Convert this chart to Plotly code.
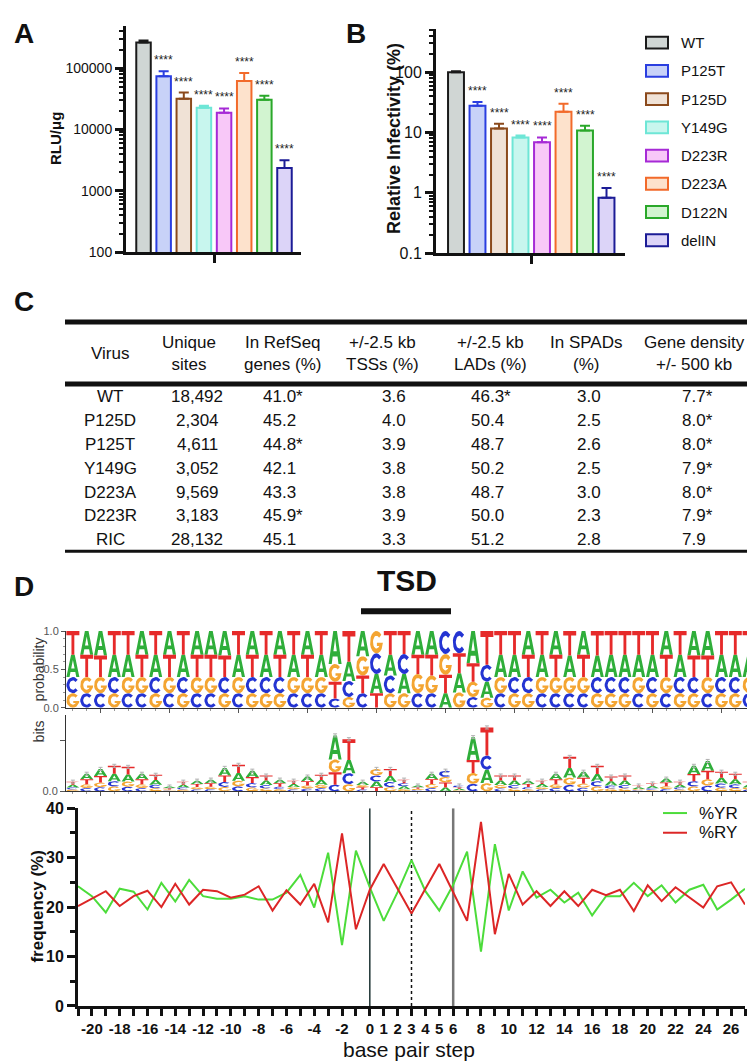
import numpy as np
import plotly.graph_objects as go

W, H = 755, 1064


def px(x):
    return x / W


def py(y):
    return 1 - y / H


FONT = "Liberation Sans, Arial, Helvetica, sans-serif"
NARROW = "Liberation Sans Narrow, Arial Narrow, Liberation Sans, sans-serif"

# ---------------- Panel A / B data ----------------
variants = ["WT", "P125T", "P125D", "Y149G", "D223R", "D223A", "D122N", "delIN"]
rlu = [263000, 74000, 31600, 22600, 18800, 62000, 30500, 2350]
rlu_err = [19000, 15000, 8400, 1800, 3200, 21000, 5000, 800]
infectivity = [100, 27.7, 11.7, 8.3, 6.9, 22.0, 10.8, 0.83]
infectivity_err = [4, 4.5, 2.3, 0.6, 1.4, 8.0, 2.2, 0.37]
significance = ["", "****", "****", "****", "****", "****", "****", "****"]
fill_colors = ["#d0d6d4", "#c8d2f8", "#f0e2d6", "#c8f6ee", "#f8c8f8", "#fde2cc", "#d2f4d0", "#dcd4f8"]
line_colors = ["#1a1a1a", "#2a3ee0", "#8b4a1c", "#6ee6d6", "#a62ad6", "#f26a2a", "#2aa82a", "#1c1c96"]

# ---------------- Panel C data ----------------
table_headers = ["Virus", "Unique<br>sites", "In RefSeq<br>genes (%)", "+/-2.5 kb<br>TSSs (%)",
                 "+/-2.5 kb<br>LADs (%)", "In SPADs<br>(%)", "Gene density<br>+/- 500 kb"]
virus = ["WT", "P125D", "P125T", "Y149G", "D223A", "D223R", "RIC"]
unique_sites = ["18,492", "2,304", "4,611", "3,052", "9,569", "3,183", "28,132"]
refseq_genes = ["41.0*", "45.2", "44.8*", "42.1", "43.3", "45.9*", "45.1"]
tss_2_5kb = ["3.6", "4.0", "3.9", "3.8", "3.8", "3.9", "3.3"]
lads_2_5kb = ["46.3*", "50.4", "48.7", "50.2", "48.7", "50.0", "51.2"]
spads = ["3.0", "2.5", "2.6", "2.5", "3.0", "2.3", "2.8"]
gene_density = ["7.7*", "8.0*", "8.0*", "7.9*", "8.0*", "7.9*", "7.9"]

# ---------------- Panel D logo data ----------------
logo_pos = list(range(-22, 28))
pA = [0.29, 0.31, 0.32, 0.29, 0.29, 0.31, 0.29, 0.31, 0.29, 0.31, 0.31, 0.32, 0.29, 0.31, 0.29, 0.31,
      0.29, 0.31, 0.29, 0.43, 0.25, 0.33, 0.25, 0.27, 0.25, 0.31, 0.31, 0.19, 0.25, 0.42, 0.21, 0.29,
      0.29, 0.31, 0.29, 0.31, 0.28, 0.31, 0.28, 0.29, 0.29, 0.29, 0.29, 0.31, 0.29, 0.32, 0.32, 0.29,
      0.29, 0.29]
pC = [0.21, 0.19, 0.19, 0.21, 0.19, 0.19, 0.21, 0.19, 0.21, 0.19, 0.19, 0.21, 0.19, 0.21, 0.21, 0.21,
      0.19, 0.19, 0.19, 0.12, 0.21, 0.19, 0.27, 0.23, 0.26, 0.19, 0.19, 0.30, 0.29, 0.14, 0.22, 0.19,
      0.21, 0.21, 0.19, 0.19, 0.19, 0.19, 0.21, 0.21, 0.21, 0.19, 0.21, 0.19, 0.21, 0.21, 0.19, 0.21,
      0.21, 0.19]
pG = [0.19, 0.21, 0.21, 0.19, 0.21, 0.21, 0.19, 0.21, 0.19, 0.21, 0.21, 0.19, 0.21, 0.19, 0.19, 0.19,
      0.21, 0.21, 0.21, 0.23, 0.14, 0.25, 0.29, 0.19, 0.19, 0.25, 0.23, 0.27, 0.20, 0.20, 0.13, 0.21,
      0.19, 0.19, 0.21, 0.21, 0.21, 0.21, 0.19, 0.19, 0.19, 0.21, 0.19, 0.21, 0.19, 0.19, 0.21, 0.19,
      0.19, 0.21]
pT = [0.31, 0.29, 0.28, 0.31, 0.31, 0.29, 0.31, 0.29, 0.31, 0.29, 0.29, 0.28, 0.31, 0.29, 0.31, 0.29,
      0.31, 0.29, 0.31, 0.22, 0.40, 0.23, 0.19, 0.31, 0.30, 0.25, 0.27, 0.24, 0.26, 0.24, 0.44, 0.31,
      0.31, 0.29, 0.31, 0.29, 0.32, 0.29, 0.32, 0.31, 0.31, 0.31, 0.31, 0.29, 0.31, 0.28, 0.28, 0.31,
      0.31, 0.31]
info_bits = [0.038, 0.069, 0.088, 0.100, 0.096, 0.069, 0.065, 0.019, 0.038, 0.042, 0.046, 0.092,
             0.104, 0.081, 0.062, 0.046, 0.042, 0.058, 0.065, 0.219, 0.204, 0.038, 0.088, 0.088,
             0.046, 0.023, 0.069, 0.081, 0.023, 0.212, 0.250, 0.062, 0.062, 0.042, 0.042, 0.069,
             0.135, 0.077, 0.100, 0.058, 0.062, 0.023, 0.031, 0.050, 0.038, 0.100, 0.119, 0.077,
             0.069, 0.038]
base_colors = {"A": "#2fae3a", "C": "#2434d2", "G": "#f4a532", "T": "#e62a2a"}

# ---------------- Panel D frequency data ----------------
bp_step = list(range(-21, 28))
pct_yr = [24.2, 22.2, 18.9, 23.7, 23.1, 19.5, 24.9, 21.1, 25.5, 22.2, 21.7, 21.7, 22.2, 21.5, 21.5,
          22.9, 26.5, 19.9, 31.0, 12.3, 31.4, 24.0, 17.2, 23.0, 29.5, 23.2, 19.3, 24.5, 31.2, 11.0,
          32.7, 19.3, 27.2, 21.9, 23.5, 20.9, 22.9, 18.3, 22.2, 22.2, 24.9, 22.2, 24.4, 20.9, 23.5,
          24.5, 19.5, 21.5, 23.7]
pct_ry = [20.2, 21.7, 23.2, 20.2, 22.2, 23.3, 20.0, 24.7, 20.5, 23.5, 23.2, 21.9, 22.5, 24.2, 19.3,
          23.4, 20.5, 24.7, 16.9, 34.9, 15.5, 23.5, 28.7, 23.7, 18.7, 23.7, 28.7, 23.0, 17.2, 37.2,
          14.5, 26.7, 20.5, 23.2, 20.2, 23.2, 20.2, 23.5, 22.4, 23.5, 19.2, 24.4, 21.2, 24.0, 22.0,
          19.9, 24.2, 25.0, 20.5]
marker_lines = [0, 3, 6]

fig = go.Figure()

# ---------------- Bars ----------------
for i, name in enumerate(variants):
    fig.add_trace(go.Bar(x=[i], y=[rlu[i]], width=0.72, xaxis="x", yaxis="y",
                         marker=dict(color=fill_colors[i], line=dict(color=line_colors[i], width=2)),
                         error_y=dict(type="data", symmetric=False, array=[rlu_err[i]], arrayminus=[0],
                                      color=line_colors[i], thickness=2, width=5),
                         showlegend=False, hoverinfo="skip"))
    fig.add_trace(go.Bar(x=[i], y=[infectivity[i]], width=0.74, xaxis="x2", yaxis="y2",
                         marker=dict(color=fill_colors[i], line=dict(color=line_colors[i], width=2)),
                         error_y=dict(type="data", symmetric=False, array=[infectivity_err[i]], arrayminus=[0],
                                      color=line_colors[i], thickness=2, width=5),
                         showlegend=False, hoverinfo="skip"))

annotations = []
for i in range(len(variants)):
    if significance[i]:
        annotations.append(dict(x=i, y=np.log10(rlu[i] + rlu_err[i]), xref="x", yref="y",
                                text=significance[i], showarrow=False, xanchor="center", yanchor="bottom",
                                yshift=2, font=dict(size=12, family=FONT, color="#222")))
        annotations.append(dict(x=i, y=np.log10(infectivity[i] + infectivity_err[i]), xref="x2", yref="y2",
                                text=significance[i], showarrow=False, xanchor="center", yanchor="bottom",
                                yshift=2, font=dict(size=12, family=FONT, color="#222")))

# ---------------- Logo glyphs ----------------
def arc(cx, cy, rx, ry, a0, a1, n=18):
    t = np.radians(np.linspace(a0, a1, n))
    return list(zip(cx + rx * np.cos(t), cy + ry * np.sin(t)))


GLYPH = {
    "T": [(0, 1), (1, 1), (1, 0.82), (0.61, 0.82), (0.61, 0), (0.39, 0), (0.39, 0.82), (0, 0.82)],
    "A": [(0, 0), (0.36, 1), (0.64, 1), (1, 0), (0.76, 0), (0.685, 0.23), (0.5, 0.23), (0.5, 0.39),
          (0.63, 0.39), (0.5, 0.77), (0.37, 0.39), (0.5, 0.39), (0.5, 0.23), (0.315, 0.23), (0.24, 0)],
    "C": arc(0.5, 0.5, 0.5, 0.5, 42, 318) + arc(0.5, 0.5, 0.27, 0.29, 318, 42),
    "G": arc(0.5, 0.5, 0.5, 0.5, 42, 360) + [(1.0, 0.47), (0.53, 0.47), (0.53, 0.33), (0.74, 0.33)]
         + arc(0.5, 0.5, 0.27, 0.29, 325, 42),
}
probs = {"A": pA, "C": pC, "G": pG, "T": pT}


def add_logo(scale, xa, ya):
    xs = {b: [] for b in "ACGT"}
    ys = {b: [] for b in "ACGT"}
    for k, p in enumerate(logo_pos):
        order = sorted("ACGT", key=lambda b: probs[b][k])
        y0 = 0.0
        for b in order:
            h = probs[b][k] * scale[k]
            for gx, gy in GLYPH[b]:
                xs[b].append(p - 0.47 + 0.94 * gx)
                ys[b].append(y0 + h * gy)
            xs[b].append(None)
            ys[b].append(None)
            y0 += h
    for b in "ACGT":
        fig.add_trace(go.Scatter(x=xs[b], y=ys[b], mode="lines", fill="toself",
                                 fillcolor=base_colors[b], line=dict(width=0, color=base_colors[b]),
                                 xaxis=xa, yaxis=ya, showlegend=False, hoverinfo="skip"))


add_logo([1.0] * len(logo_pos), "x4", "y4")
add_logo(info_bits, "x5", "y5")
fig.add_trace(go.Scatter(x=logo_pos, y=info_bits, mode="markers", xaxis="x5", yaxis="y5",
                         marker=dict(size=1, color="rgba(0,0,0,0)"),
                         error_y=dict(type="constant", value=0.006, color="#b0b0b0", thickness=1, width=2),
                         showlegend=False, hoverinfo="skip"))

# ---------------- Frequency lines ----------------
fig.add_trace(go.Scatter(x=bp_step, y=pct_yr, mode="lines", name="%YR", xaxis="x3", yaxis="y3",
                         line=dict(color="#4cdc3a", width=2), showlegend=False))
fig.add_trace(go.Scatter(x=bp_step, y=pct_ry, mode="lines", name="%RY", xaxis="x3", yaxis="y3",
                         line=dict(color="#dc2626", width=2), showlegend=False))

shapes = []
line_styles = [dict(color="#1d3333", width=1.5), dict(color="#111", width=1.5, dash="dot"),
               dict(color="#777", width=2.5)]
for xv, st in zip(marker_lines, line_styles):
    shapes.append(dict(type="line", xref="x3", yref="y3", x0=xv, x1=xv, y0=0, y1=40, line=st, layer="below"))

# ---------------- Legends (manual) ----------------
for i, name in enumerate(variants):
    yc = 27 + 28.7 * i
    shapes.append(dict(type="rect", xref="paper", yref="paper", x0=px(638), x1=px(660),
                       y0=py(yc + 6), y1=py(yc - 6), fillcolor=fill_colors[i],
                       line=dict(color=line_colors[i], width=2)))
    annotations.append(dict(x=px(671), y=py(yc), xref="paper", yref="paper", text=name, showarrow=False,
                            xanchor="left", yanchor="middle", font=dict(size=15, family=FONT, color="#111")))

for j, (name, colr) in enumerate([("%YR", "#4cdc3a"), ("%RY", "#dc2626")]):
    yc = 810 + 20 * j
    shapes.append(dict(type="line", xref="paper", yref="paper", x0=px(655), x1=px(679), y0=py(yc), y1=py(yc),
                       line=dict(color=colr, width=2)))
    annotations.append(dict(x=px(689), y=py(yc), xref="paper", yref="paper", text=name, showarrow=False,
                            xanchor="left", yanchor="middle", font=dict(size=17, family=FONT, color="#111")))

# ---------------- Table (panel C) ----------------
for yv, wdt in [(311, 5), (374, 5), (544, 3)]:
    shapes.append(dict(type="line", xref="paper", yref="paper", x0=px(57), x1=px(743), y0=py(yv), y1=py(yv),
                       line=dict(color="#111", width=wdt)))
header_x = [102, 181, 274, 374, 483, 578, 686]
columns = [virus, unique_sites, refseq_genes, tss_2_5kb, lads_2_5kb, spads, gene_density]
col_anchor = [("center", 102), ("center", 189), ("left", 253), ("left", 372), ("left", 461), ("left", 567),
              ("left", 672)]
for hx, htxt in zip(header_x, table_headers):
    annotations.append(dict(x=px(hx), y=py(343), xref="paper", yref="paper", text=htxt, showarrow=False,
                            xanchor="center", yanchor="middle", align="center",
                            font=dict(size=17, family=FONT, color="#111")))
for col, (anc, cx) in zip(columns, col_anchor):
    for r, val in enumerate(col):
        annotations.append(dict(x=px(cx), y=py(387 + 24.2 * r), xref="paper", yref="paper", text=val,
                                showarrow=False, xanchor=anc, yanchor="middle",
                                font=dict(size=17, family=FONT, color="#111")))

# ---------------- Panel letters & titles ----------------
for letter, xx, yy in [("A", 4, 18), ("B", 336, 18), ("C", 4, 290), ("D", 4, 580)]:
    annotations.append(dict(x=px(xx), y=py(yy), xref="paper", yref="paper", text=letter, showarrow=False,
                            xanchor="left", yanchor="middle",
                            font=dict(size=28, family=FONT, color="#111", weight="bold")))
annotations.append(dict(x=px(399), y=py(574), xref="paper", yref="paper", text="TSD", showarrow=False,
                        xanchor="center", yanchor="middle",
                        font=dict(size=30, family=NARROW, color="#111", weight="bold")))
shapes.append(dict(type="line", xref="paper", yref="paper", x0=px(353), x1=px(443), y0=py(605), y1=py(605),
                   line=dict(color="#111", width=6)))

rot = dict(xref="paper", yref="paper", textangle=-90, showarrow=False, xanchor="center", yanchor="middle")
annotations += [
    dict(x=px(47), y=py(125), text="RLU/μg", font=dict(size=15, family=FONT, color="#111", weight="bold"), **rot),
    dict(x=px(386), y=py(125), text="Relative Infectivity (%)",
         font=dict(size=18, family=FONT, color="#111", weight="bold"), **rot),
    dict(x=px(31), y=py(664), text="probability", font=dict(size=14, family=FONT, color="#333"), **rot),
    dict(x=px(31), y=py(727), text="bits", font=dict(size=14, family=FONT, color="#333"), **rot),
    dict(x=px(30), y=py(905), text="frequency (%)", font=dict(size=17, family=FONT, color="#111", weight="bold"),
         **rot),
    dict(x=px(401), y=py(1050), xref="paper", yref="paper", text="base pair step", showarrow=False,
         xanchor="center", yanchor="middle", font=dict(size=21, family=FONT, color="#111")),
]

# ---------------- Axes ----------------
tickfont = dict(size=14, family=FONT, color="#111")
log_minor_a = [m * 10 ** e for e in range(2, 6) for m in range(2, 10)]
log_minor_b = [m * 10 ** e for e in range(-1, 3) for m in range(2, 10)]

common_bar_x = dict(showline=True, linewidth=3, linecolor="#111", ticks="outside", ticklen=8, tickwidth=3,
                    tickcolor="#111", tickvals=[3.5], showticklabels=False, showgrid=False, zeroline=False,
                    fixedrange=True)
logo_x = dict(range=[-22.5, 27.5], showline=True, linewidth=1, linecolor="#333", ticks="outside", ticklen=4,
              tickwidth=1, tickcolor="#555", tickvals=[-20, -15, -10, -5, 0, 5, 10, 15, 20, 25],
              showticklabels=False, showgrid=False, zeroline=False,
              minor=dict(dtick=1, ticks="outside", ticklen=2, tickcolor="#999", tickwidth=1))
layout = dict(
    width=W, height=H, margin=dict(l=0, r=0, t=0, b=0), paper_bgcolor="white", plot_bgcolor="rgba(0,0,0,0)",
    barmode="overlay", showlegend=False, font=dict(family=FONT),
    xaxis=dict(domain=[px(118), px(293)], range=[-0.87, 7.82], anchor="y", **common_bar_x),
    yaxis=dict(domain=[py(240), py(10)], type="log", range=[2, 5.69], anchor="x", showline=True, linewidth=3,
               linecolor="#111", ticks="outside", ticklen=8, tickwidth=3, tickcolor="#111",
               tickvals=[100, 1000, 10000, 100000], ticktext=["100", "1000", "10000", "100000"],
               tickfont=tickfont, showgrid=False, zeroline=False,
               minor=dict(tickvals=log_minor_a, ticks="outside", ticklen=4, tickwidth=2, tickcolor="#111",
                          showgrid=False)),
    xaxis2=dict(domain=[px(428), px(617)], range=[-0.93, 7.86], anchor="y2", **common_bar_x),
    yaxis2=dict(domain=[py(241), py(13)], type="log", range=[-1, 2.72], anchor="x2", showline=True, linewidth=3,
                linecolor="#111", ticks="outside", ticklen=8, tickwidth=3, tickcolor="#111",
                tickvals=[0.1, 1, 10, 100], ticktext=["0.1", "1", "10", "100"],
                tickfont=dict(size=16, family=FONT, color="#111"), showgrid=False, zeroline=False,
                minor=dict(tickvals=log_minor_b, ticks="outside", ticklen=4, tickwidth=2, tickcolor="#111",
                           showgrid=False)),
    xaxis3=dict(domain=[px(70), px(737)], range=[-21, 27], anchor="y3", showline=True, linewidth=3,
                linecolor="#111", ticks="outside", ticklen=7, tickwidth=3, tickcolor="#111",
                tickvals=bp_step,
                ticktext=[str(v) if (v % 2 == 0 or v in (1, 3, 5)) else "" for v in bp_step],
                tickfont=dict(size=15, family=FONT, color="#111", weight="bold"), showgrid=False,
                zeroline=False),
    yaxis3=dict(domain=[py(1006), py(805)], range=[0, 40], anchor="x3", showline=True, linewidth=3,
                linecolor="#111", ticks="outside", ticklen=8, tickwidth=3, tickcolor="#111",
                tickvals=[0, 10, 20, 30, 40], tickfont=dict(size=16, family=FONT, color="#111", weight="bold"),
                showgrid=False, zeroline=False,
                minor=dict(tickvals=[5, 15, 25, 35], ticks="outside", ticklen=5, tickwidth=3, tickcolor="#111")),
    xaxis4=dict(domain=[px(58), px(748)], anchor="y4", **logo_x),
    yaxis4=dict(domain=[py(703), py(625)], range=[0, 1], anchor="x4", showline=True, linewidth=1,
                linecolor="#333", ticks="outside", ticklen=4, tickwidth=1, tickcolor="#555",
                tickvals=[0, 0.5, 1], ticktext=["0.0", "0.5", "1.0"],
                tickfont=dict(size=11, family=FONT, color="#555"), showgrid=False, zeroline=False,
                minor=dict(dtick=0.1, ticks="outside", ticklen=2, tickcolor="#999")),
    xaxis5=dict(domain=[px(58), px(748)], anchor="y5", **logo_x),
    yaxis5=dict(domain=[py(788), py(710)], range=[0, 0.3], anchor="x5", showline=True, linewidth=1,
                linecolor="#333", ticks="outside", ticklen=5, tickwidth=1, tickcolor="#555",
                tickvals=[0, 0.2], ticktext=["0.0", ""],
                tickfont=dict(size=11, family=FONT, color="#555"), showgrid=False, zeroline=False),
    shapes=shapes, annotations=annotations,
)
fig.update_layout(**layout)
fig.write_html("out.html")
